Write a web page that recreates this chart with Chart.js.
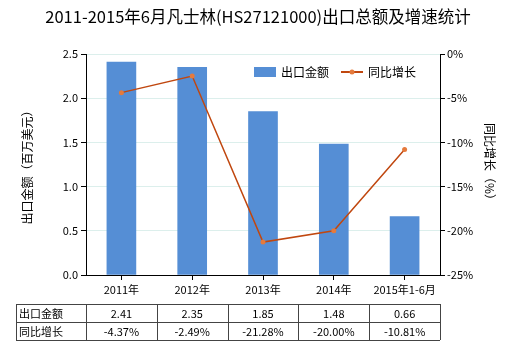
<!DOCTYPE html>
<html>
<head>
<meta charset="utf-8">
<script src="https://cdn.jsdelivr.net/npm/chart.js@4.4.1/dist/chart.umd.min.js"></script>
<style>
  html, body { margin: 0; padding: 0; background: #fff; }
  #wrap { width: 520px; height: 350px; }
</style>
</head>
<body>
<div id="wrap"><canvas id="chart" width="520" height="350"></canvas></div>
<script>
// Chart data
const categories = ['2011年', '2012年', '2013年', '2014年', '2015年1-6月'];
const exportValues = [2.41, 2.35, 1.85, 1.48, 0.66];
const growthRates = [-4.37, -2.49, -21.28, -20.00, -10.81];
const exportLabels = ['2.41', '2.35', '1.85', '1.48', '0.66'];
const growthLabels = ['-4.37%', '-2.49%', '-21.28%', '-20.00%', '-10.81%'];

const FONT = '"Noto Sans CJK SC", "Microsoft YaHei", sans-serif';
const BAR_COLOR = '#558ed5';
const LINE_COLOR = '#c0470f';

// Title, legend, axis titles and data table
const extras = {
    id: 'extras',
    afterDraw(chart) {
        const ctx = chart.ctx;
        const area = chart.chartArea;
        const x = chart.scales.x;
        ctx.save();
        ctx.fillStyle = '#000';
        ctx.textBaseline = 'middle';

        // title
        ctx.font = '16.5px ' + FONT;
        ctx.textAlign = 'center';
        ctx.fillText('2011-2015年6月凡士林(HS27121000)出口总额及增速统计', 258, 17);

        // legend
        ctx.font = '12px ' + FONT;
        ctx.textAlign = 'left';
        ctx.fillStyle = BAR_COLOR;
        ctx.fillRect(254, 67, 22, 10);
        ctx.fillStyle = '#000';
        ctx.fillText('出口金额', 281, 72);
        ctx.strokeStyle = LINE_COLOR;
        ctx.lineWidth = 2;
        ctx.beginPath();
        ctx.moveTo(341, 72);
        ctx.lineTo(363, 72);
        ctx.stroke();
        ctx.fillStyle = '#e57a3c';
        ctx.beginPath();
        ctx.arc(352, 72, 2.5, 0, Math.PI * 2);
        ctx.fill();
        ctx.fillStyle = '#000';
        ctx.fillText('同比增长', 368, 72);

        // axis titles
        ctx.textAlign = 'center';
        ctx.save();
        ctx.translate(27, (area.top + area.bottom) / 2);
        ctx.rotate(-Math.PI / 2);
        ctx.fillText('出口金额（百万美元）', 0, 0);
        ctx.restore();
        ctx.save();
        ctx.translate(490, (area.top + area.bottom) / 2);
        ctx.rotate(Math.PI / 2);
        ctx.fillText('同比增长（%）', 0, 0);
        ctx.restore();

        // data table
        const step = x.getPixelForValue(1) - x.getPixelForValue(0);
        const left = 16;
        const colStart = x.getPixelForValue(0) - step / 2;
        const right = x.getPixelForValue(categories.length - 1) + step / 2;
        const rows = [304, 322, 340];
        ctx.strokeStyle = '#444';
        ctx.lineWidth = 1;
        ctx.beginPath();
        rows.forEach(r => { ctx.moveTo(left, r + 0.5); ctx.lineTo(right, r + 0.5); });
        ctx.moveTo(left + 0.5, rows[0]); ctx.lineTo(left + 0.5, rows[2]);
        for (let i = 0; i <= categories.length; i++) {
            const px = Math.round(colStart + i * step) + 0.5;
            ctx.moveTo(px, rows[0]); ctx.lineTo(px, rows[2]);
        }
        ctx.stroke();

        ctx.font = '11px ' + FONT;
        ctx.textAlign = 'left';
        ctx.fillText('出口金额', left + 3, (rows[0] + rows[1]) / 2 + 1);
        ctx.fillText('同比增长', left + 3, (rows[1] + rows[2]) / 2 + 1);
        ctx.textAlign = 'center';
        categories.forEach((c, i) => {
            const cx = x.getPixelForValue(i);
            ctx.fillText(exportLabels[i], cx, (rows[0] + rows[1]) / 2 + 1);
            ctx.fillText(growthLabels[i], cx, (rows[1] + rows[2]) / 2 + 1);
        });
        ctx.restore();
    }
};

const ctx = document.getElementById('chart').getContext('2d');
new Chart(ctx, {
    type: 'bar',
    data: {
        labels: categories,
        datasets: [{
            type: 'line',
            label: '同比增长',
            data: growthRates,
            yAxisID: 'y1',
            borderColor: LINE_COLOR,
            borderWidth: 1.5,
            pointRadius: 2.5,
            pointBackgroundColor: '#e57a3c',
            pointBorderWidth: 0,
            tension: 0,
            order: 0
        }, {
            label: '出口金额',
            data: exportValues,
            yAxisID: 'y',
            backgroundColor: BAR_COLOR,
            barThickness: 29,
            order: 1
        }]
    },
    options: {
        responsive: false,
        animation: false,
        devicePixelRatio: 1,
        layout: { padding: { left: 0, right: 0, top: 54, bottom: 0 } },
        plugins: {
            legend: { display: false },
            title: { display: false },
            tooltip: { enabled: false }
        },
        scales: {
            x: {
                grid: { display: true, drawOnChartArea: false, offset: false, tickLength: 5, color: '#000' },
                border: { color: '#000' },
                ticks: { color: '#000', font: { family: FONT, size: 11 }, padding: 3, maxRotation: 0 },
                afterFit(s) { s.height = 75; }
            },
            y: {
                position: 'left',
                min: 0, max: 2.5,
                ticks: { stepSize: 0.5, color: '#000', font: { family: FONT, size: 11 }, padding: 3,
                    callback: v => v.toFixed(1) },
                grid: { color: '#dcefec', tickColor: '#000', tickLength: 5 },
                border: { color: '#000' },
                afterFit(s) { s.width = 86; }
            },
            y1: {
                position: 'right',
                min: -25, max: 0,
                ticks: { stepSize: 5, color: '#000', font: { family: FONT, size: 11 }, padding: 2,
                    callback: v => v + '%' },
                grid: { drawOnChartArea: false, tickColor: '#000', tickLength: 5 },
                border: { color: '#000' },
                afterFit(s) { s.width = 80; }
            }
        }
    },
    plugins: [extras]
});
</script>
</body>
</html>
